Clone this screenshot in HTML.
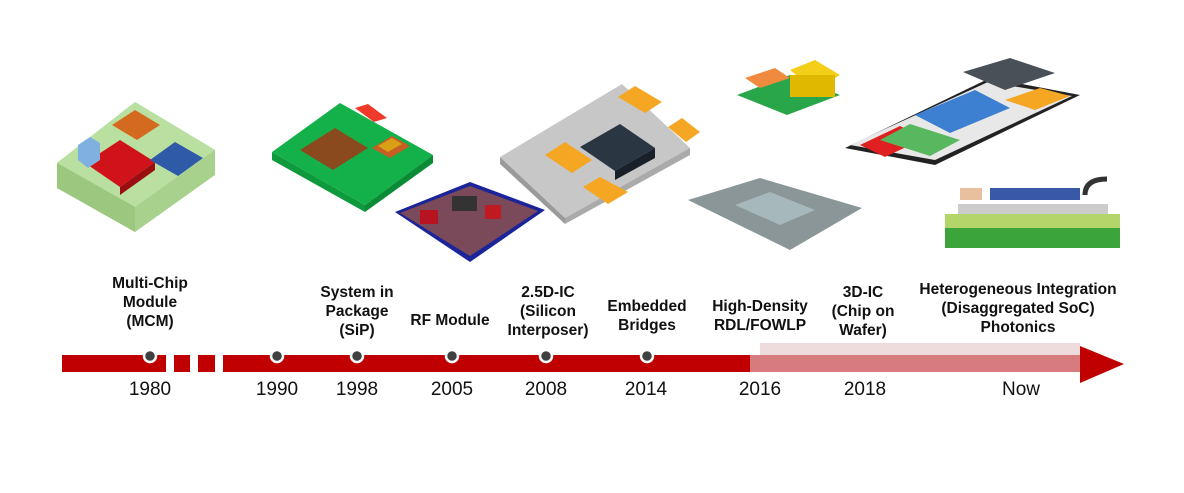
<!DOCTYPE html>
<html><head><meta charset="utf-8"><style>
html,body{margin:0;padding:0;background:#fff}
body{width:1184px;height:493px;position:relative;overflow:hidden;font-family:"Liberation Sans",Arial,sans-serif}
.l{position:absolute;font-weight:bold;font-size:15.5px;line-height:19px;text-align:center;color:#111;transform:translateX(-50%);white-space:nowrap}
.y{position:absolute;font-size:19px;color:#111;transform:translateX(-50%);top:379px}
</style></head><body>
<svg width="1184" height="493" style="position:absolute;left:0;top:0">
<!-- MCM -->
<polygon points="57,163 135,102 215,150 215,175 135,232 57,188" fill="#a9d18e"/>
<polygon points="57,163 135,102 215,150 135,207" fill="#b9e0a0"/>
<polygon points="57,163 135,207 135,232 57,188" fill="#9cc77f"/>
<polygon points="85,163 120,140 155,162 120,187" fill="#d0131a"/>
<polygon points="120,187 155,162 155,170 120,195" fill="#9a0e12"/>
<polygon points="112,125 135,110 160,125 137,140" fill="#d46a1f"/>
<polygon points="150,160 175,142 203,158 178,176" fill="#2f5aa8"/>
<polygon points="78,145 90,137 100,143 100,160 88,168 78,160" fill="#7fb0e0"/>
<!-- SiP -->
<polygon points="272,152 340,103 433,155 365,205" fill="#14b14b"/>
<polygon points="272,152 365,205 365,212 272,160" fill="#0d9a3c"/>
<polygon points="365,205 433,155 433,163 365,212" fill="#0a8c36"/>
<polygon points="300,150 335,128 368,148 333,170" fill="#8a4a1e"/>
<polygon points="372,148 392,136 410,146 390,158" fill="#c85e24"/>
<polygon points="378,146 392,138 402,144 388,152" fill="#d9a015"/>
<polygon points="355,108 368,104 387,118 374,122" fill="#ef3a2a"/>
<!-- RF -->
<polygon points="395,212 470,182 545,210 470,262" fill="#1b2498"/>
<polygon points="400,213 470,186 538,211 470,256" fill="#7a4a5a"/>
<rect x="452" y="196" width="25" height="15" fill="#333"/>
<rect x="420" y="210" width="18" height="14" fill="#b81320"/>
<rect x="485" y="205" width="16" height="14" fill="#c01a20"/>
<!-- 2.5D -->
<polygon points="500,157 622,84 690,148 565,218" fill="#c7c7c7"/>
<polygon points="500,157 565,218 565,224 500,164" fill="#9a9a9a"/>
<polygon points="565,218 690,148 690,155 565,224" fill="#aaa"/>
<polygon points="580,147 620,124 655,148 615,171" fill="#2b3643"/>
<polygon points="615,171 655,148 655,158 615,180" fill="#1a2029"/>
<polygon points="545,155 565,142 592,160 572,173" fill="#f5a623"/>
<polygon points="583,187 600,177 628,192 608,204" fill="#f5a623"/>
<polygon points="618,97 635,86 662,102 645,113" fill="#f5a623"/>
<polygon points="668,127 682,118 700,132 686,142" fill="#f5a623"/>
<!-- stack -->
<polygon points="737,95 790,75 840,95 787,115" fill="#2aa64a"/>
<polygon points="745,78 775,68 790,78 760,88" fill="#f08a3e"/>
<polygon points="790,70 815,60 840,75 815,90" fill="#f3cf1a"/>
<rect x="790" y="75" width="45" height="22" fill="#e0b800"/>
<!-- FOWLP -->
<polygon points="688,200 760,178 862,208 790,250" fill="#8a9698"/>
<polygon points="735,205 770,192 815,210 780,225" fill="#a6b8bc"/>
<!-- SoC -->
<polygon points="845,148 990,78 1080,95 935,165" fill="#222"/>
<polygon points="850,145 988,82 1072,96 935,160" fill="#e8e8e8"/>
<polygon points="860,145 900,126 925,138 885,157" fill="#e02020"/>
<polygon points="915,115 975,90 1010,108 950,133" fill="#3d7fd0"/>
<polygon points="963,72 1010,58 1055,73 1005,90" fill="#4a5058"/>
<polygon points="1005,100 1040,88 1070,96 1035,110" fill="#f5a623"/>
<polygon points="880,140 910,124 960,140 930,156" fill="#58b860"/>
<!-- photonics -->
<rect x="945" y="228" width="175" height="20" fill="#3ba43b"/>
<rect x="945" y="214" width="175" height="14" fill="#b3d56a"/>
<rect x="958" y="204" width="150" height="10" fill="#ccc"/>
<rect x="990" y="188" width="90" height="12" fill="#3858a8"/>
<rect x="960" y="188" width="22" height="12" fill="#e8c0a0"/>
<path d="M1085 195 q0-16 22-16" stroke="#333" stroke-width="5" fill="none"/>
<!-- timeline -->
<rect x="62" y="355" width="104" height="17" fill="#c00000"/>
<rect x="174" y="355" width="16" height="17" fill="#c00000"/>
<rect x="198" y="355" width="17" height="17" fill="#c00000"/>
<rect x="223" y="355" width="527" height="17" fill="#c00000"/>
<rect x="750" y="355" width="338" height="17" fill="#d77b7f"/>
<rect x="760" y="343" width="320" height="12" fill="#ead3d4" opacity=".8"/>
<polygon points="1080,346 1124,364 1080,383" fill="#c00000"/>
<g fill="#404040" stroke="#fff" stroke-width="2.5">
<circle cx="150" cy="356" r="6"/><circle cx="277" cy="356" r="6"/><circle cx="357" cy="356" r="6"/><circle cx="452" cy="356" r="6"/><circle cx="546" cy="356" r="6"/><circle cx="647" cy="356" r="6"/>
</g>
</svg>
<div class="l" style="left:150px;top:274px">Multi-Chip<br>Module<br>(MCM)</div>
<div class="l" style="left:357px;top:283px">System in<br>Package<br>(SiP)</div>
<div class="l" style="left:450px;top:311px">RF Module</div>
<div class="l" style="left:548px;top:283px">2.5D-IC<br>(Silicon<br>Interposer)</div>
<div class="l" style="left:647px;top:297px">Embedded<br>Bridges</div>
<div class="l" style="left:760px;top:297px">High-Density<br>RDL/FOWLP</div>
<div class="l" style="left:863px;top:283px">3D-IC<br>(Chip on<br>Wafer)</div>
<div class="l" style="left:1018px;top:280px">Heterogeneous Integration<br>(Disaggregated SoC)<br>Photonics</div>
<div class="y" style="left:150px">1980</div>
<div class="y" style="left:277px">1990</div>
<div class="y" style="left:357px">1998</div>
<div class="y" style="left:452px">2005</div>
<div class="y" style="left:546px">2008</div>
<div class="y" style="left:646px">2014</div>
<div class="y" style="left:760px">2016</div>
<div class="y" style="left:865px">2018</div>
<div class="y" style="left:1021px">Now</div>
</body></html>
